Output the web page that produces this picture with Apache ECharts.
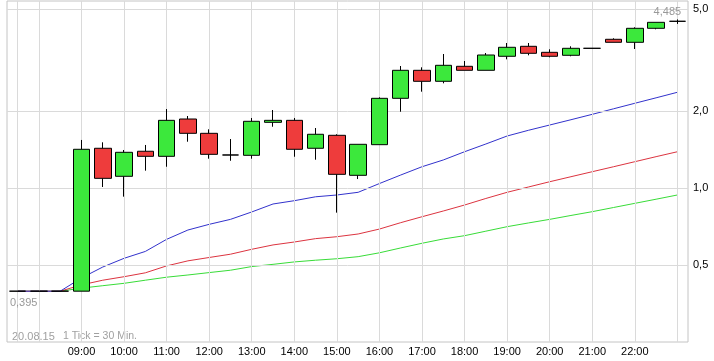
<!DOCTYPE html>
<html><head><meta charset="utf-8">
<script src="https://cdn.jsdelivr.net/npm/echarts@6/dist/echarts.min.js"></script>
<style>html,body{margin:0;padding:0;background:#fff}#c{width:714px;height:361px}</style>
</head><body><div id="c"></div>
<script>
const categories = ['07:30','08:00','08:30','09:00','09:30','10:00','10:30','11:00','11:30','12:00','12:30','13:00','13:30','14:00','14:30','15:00','15:30','16:00','16:30','17:00','17:30','18:00','18:30','19:00','19:30','20:00','20:30','21:00','21:30','22:00','22:30','23:00'];
// [open, close, low, high]
const candles = [
  [0.395,0.395,0.395,0.395],
  [0.395,0.395,0.395,0.395],
  [0.395,0.395,0.395,0.395],
  [0.395,1.417,0.395,1.541],
  [1.430,1.091,1.009,1.509],
  [1.111,1.379,0.925,1.408],
  [1.392,1.330,1.169,1.473],
  [1.330,1.839,1.211,2.036],
  [1.861,1.636,1.517,1.912],
  [1.636,1.354,1.302,1.696],
  [1.346,1.346,1.278,1.554],
  [1.342,1.823,1.302,1.878],
  [1.806,1.839,1.736,2.018],
  [1.839,1.417,1.325,1.878],
  [1.430,1.622,1.290,1.716],
  [1.607,1.131,0.801,1.622],
  [1.121,1.482,1.084,1.482],
  [1.477,2.242,1.477,2.262],
  [2.242,2.885,1.987,2.999],
  [2.885,2.613,2.380,2.964],
  [2.613,3.018,2.566,3.341],
  [2.991,2.885,2.885,3.137],
  [2.885,3.311,2.885,3.371],
  [3.273,3.549,3.185,3.689],
  [3.581,3.362,3.302,3.689],
  [3.392,3.273,3.243,3.485],
  [3.302,3.517,3.273,3.581],
  [3.517,3.517,3.517,3.517],
  [3.814,3.712,3.712,3.849],
  [3.712,4.211,3.495,4.249],
  [4.211,4.444,4.173,4.444],
  [4.485,4.485,4.380,4.560]
];
const maBlue = [0.395,0.395,0.395,0.445,0.491,0.531,0.565,0.630,0.685,0.721,0.754,0.806,0.866,0.892,0.924,0.939,0.962,1.041,1.124,1.211,1.287,1.386,1.486,1.597,1.681,1.763,1.849,1.941,2.040,2.144,2.252,2.367];
const maRed = [0.395,0.395,0.395,0.418,0.436,0.450,0.466,0.496,0.519,0.535,0.551,0.576,0.599,0.615,0.634,0.645,0.661,0.691,0.732,0.772,0.813,0.858,0.910,0.962,1.009,1.058,1.107,1.158,1.211,1.267,1.326,1.386];
const maGreen = [0.395,0.395,0.395,0.406,0.415,0.424,0.436,0.448,0.457,0.467,0.477,0.493,0.503,0.514,0.522,0.529,0.539,0.558,0.583,0.608,0.632,0.651,0.678,0.706,0.730,0.754,0.781,0.808,0.839,0.871,0.904,0.939];
const yTicks = [0.5, 1, 2, 5];
const gridCats = ['07:30','08:00','09:00','10:00','11:00','12:00','13:00','14:00','15:00','16:00','17:00','18:00','19:00','20:00','21:00','22:00','23:00'];
const labelCats = ['09:00','10:00','11:00','12:00','13:00','14:00','15:00','16:00','17:00','18:00','19:00','20:00','21:00','22:00'];
const lastValue = 4.485;
const firstValue = 0.395;
const dateText = '20.08.15';
const tickText = '1 Tick = 30 Min.';

const FONT = '"Liberation Sans", Arial, sans-serif';
const gridColor = '#dadada';
const fmt = (v, d) => v.toFixed(d).replace('.', ',');

const chart = echarts.init(document.getElementById('c'), null, {renderer: 'canvas'});
chart.setOption({
  animation: false,
  backgroundColor: '#fff',
  grid: {left: 7, right: 26, top: 1, bottom: 19, show: true, borderColor: '#c4c4c4', borderWidth: 1},
  xAxis: {
    type: 'category', data: categories, boundaryGap: true,
    axisLine: {show: false}, axisTick: {show: false}, splitLine: {show: false},
    axisLabel: {interval: (i, v) => labelCats.includes(v), color: '#000', fontSize: 11, fontFamily: FONT, margin: 4}
  },
  yAxis: {
    type: 'log', logBase: 10, min: 0.25, max: 5.384, position: 'right',
    axisLine: {show: false}, axisTick: {show: false}, splitLine: {show: false},
    axisLabel: {customValues: yTicks, formatter: v => fmt(Math.round(v * 10) / 10, 1), color: '#000', fontSize: 11, fontFamily: FONT, margin: 5}
  },
  graphic: [
    {type: 'text', left: 12, top: 331, style: {text: dateText, fill: '#a0a0a0', font: '11px ' + FONT}},
    {type: 'text', left: 63, top: 331, style: {text: tickText, fill: '#a0a0a0', font: '10.5px ' + FONT}}
  ],
  series: [
    {
      type: 'line', data: categories.map(() => '-'), z: 0, silent: true, symbol: 'none',
      markLine: {
        silent: true, symbol: 'none', animation: false,
        label: {show: false},
        lineStyle: {color: gridColor, type: 'solid', width: 1},
        data: gridCats.map(c => ({xAxis: c})).concat(yTicks.map(v => ({yAxis: v})))
      }
    },
    {type: 'line', data: maGreen, symbol: 'none', silent: true, z: 2, lineStyle: {color: '#38dc38', width: 1}},
    {type: 'line', data: maRed, symbol: 'none', silent: true, z: 2, lineStyle: {color: '#dc3440', width: 1}},
    {type: 'line', data: maBlue, symbol: 'none', silent: true, z: 2, lineStyle: {color: '#3232cc', width: 1}},
    {
      type: 'candlestick', data: candles, barWidth: 17, z: 5, silent: true,
      itemStyle: {color: '#3ce83c', color0: '#ee3c3c', borderColor: '#000', borderColor0: '#000', borderColorDoji: '#000', borderWidth: 1},
      markPoint: {
        symbol: 'circle', symbolSize: 0, silent: true, animation: false,
        label: {show: true, position: 'inside', color: '#999', fontSize: 11, fontFamily: FONT, formatter: p => fmt(p.value, 3)},
        data: [
          {coord: ['23:00', lastValue], value: lastValue, label: {offset: [-10, -9]}},
          {coord: ['07:30', firstValue], value: firstValue, label: {offset: [6, 12]}}
        ]
      }
    }
  ]
});
</script>
</body></html>
